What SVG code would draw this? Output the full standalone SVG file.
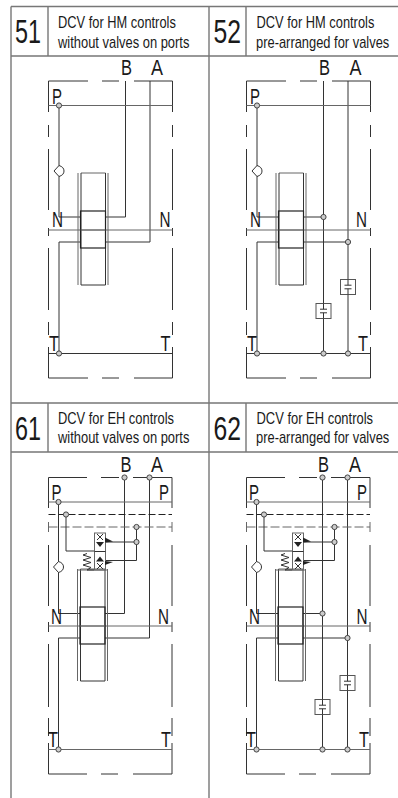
<svg xmlns="http://www.w3.org/2000/svg" width="398" height="798" viewBox="0 0 398 798">
<style>
text{font-family:"Liberation Sans",Arial,sans-serif;fill:#1a1a1a}
.t{stroke:#777;stroke-width:1.4;fill:none}
.l{stroke:#333;stroke-width:1;fill:none}
.g{stroke:#666;stroke-width:1;fill:none}
.k{stroke:#222;stroke-width:1.2;fill:none}
.c{stroke:#444;stroke-width:1;fill:#ccc}
.w{stroke:#333;stroke-width:1;fill:#fff}
.f{fill:#222;stroke:none}
.n{font-size:33px}
.d{font-size:16px}
.p{font-size:22px}
</style>
<defs>
<g id="frame51">
<path class="l" d="M48.5 112V81H88M102 81H119M134 81H172.5V112M48.5 125V137M172.5 125V137M48.5 149V210M172.5 149V210M48.5 228V236M172.5 228V236M48.5 248V310M172.5 248V310M48.5 322V335M172.5 322V335M48.5 347V378H88M102 378H119M134 378H172.5V347"/>
<path class="g" d="M48.5 105.500H172.500M48.5 230H172.500"/>
<path class="l" d="M48.5 353.500H172.500"/>
<use href="#spool"/>
</g>
<g id="spool">
<path class="g" d="M78 173V285M108 173V285M81 173H105.500"/>
<path class="l" d="M81 173V285H105.500V173"/>
<rect class="k" x="80.500" y="211" width="25" height="37"/>
<path class="g" d="M80.500 230H105.500"/>
</g>
<g id="frame61">
<path class="l" d="M48.500 508V477.500H87M101 477.500H119M133 477.500H172V508M48.500 545V606M172 545V606M48.500 622V632M172 622V632M48.500 644V707M172 644V707M48.500 718V736M172 718V736M48.500 743V774H87M101 774H118M133 774H172V743"/>
<path class="g" d="M48.500 522V532M172 522V532"/>
<path class="g" d="M48.500 502H172M48.500 626H172M48.500 749.500H172"/>
<path class="k" d="M48.500 514.500H172" stroke-dasharray="7 3"/>
<path class="g" d="M48.500 527H172" stroke-dasharray="9 3" stroke-width="1.200"/>
<use href="#spool" transform="translate(-0.500 396)"/>
<path class="g" d="M77 570H108"/>
</g>
<g id="pilot">
<path class="l" d="M66 514.500V551H95M105 542H136.500M136.500 527V560.500H105"/>
<rect class="g" x="94.500" y="533" width="11" height="37"/>
<path class="l" d="M97 534L103 540M103 534L97 540M97 563L103 569M103 563L97 569M94.500 551.500H105.500"/>
<path class="f" d="M96 542H104L100 547ZM96 561.500H104L100 556.500ZM105 537.500L113 541.500L105 542.500ZM105 565L113 562L105 561Z"/>
<path class="l" d="M87 570L91 567.500L83 565L91 562.500L83 560L91 557.500L83 555L87 553.500"/>
<path class="l" d="M87 570H94"/>
</g>
<g id="valve">
<rect x="-7.500" y="-7.500" width="15" height="15" fill="#fff" stroke="#555" stroke-width="1"/>
<path class="l" d="M0 -7.500V-1.800M-3.500 -1.800H3.500M-3.500 1.800H3.500M0 1.800V7.500"/>
</g>
<circle id="dot" class="c" r="2.600"/>
<path id="check" class="w" stroke-linejoin="round" d="M-5 0L0 -5.500Q5 -4 5 0Q5 4 0 5.500Z"/>
</defs>
<g id="table">
<path class="t" d="M11 6.500H398M11 56H398M11 6.500V798M48 6.500V56M209 6.500V798M246 6.500V56M11 403H398M11 452H398M48 403V452M246 403V452"/>
</g>
<g id="connectors">
<path class="l" d="M59 105.500V217H80M106 217H125.500V81M150 81V242H106M80 242H59V353.500"/>
<g transform="translate(198 0)">
<path class="l" d="M59 105.500V217H80M106 217H125.500V81M150 81V353.500M150 242H106M80 242H59V353.500M125.500 217V353.500"/>
</g>
<path class="l" d="M58.500 502V613.500H80M105 613.500H124.500V477.500M149.500 477.500V638H105M80 638H58.500V749.500"/>
<g transform="translate(198 0)">
<path class="l" d="M58.500 502V613.500H80M105 613.500H124.500V477.500M149.500 477.500V749.500M149.500 638H105M80 638H58.500V749.500M124.500 613.500V749.500"/>
</g>
</g>
<g id="node-51">
<use href="#frame51"/>
<use href="#check" x="59" y="171"/>
<use href="#dot" x="59" y="105.500"/>
<use href="#dot" x="59" y="353.500"/>
<text class="n" x="15" y="42.700" textLength="26" lengthAdjust="spacingAndGlyphs">51</text>
<text class="d" transform="translate(58 28) scale(.804 1)">DCV for HM controls</text>
<text class="d" transform="translate(58 47.700) scale(.808 1)">without valves on ports</text>
<text class="p" x="121" y="75" textLength="11" lengthAdjust="spacingAndGlyphs">B</text>
<text class="p" x="151" y="75" textLength="12" lengthAdjust="spacingAndGlyphs">A</text>
<text class="p" x="52" y="103.500" textLength="10" lengthAdjust="spacingAndGlyphs">P</text>
<text class="p" x="52" y="226.700" textLength="11" lengthAdjust="spacingAndGlyphs">N</text>
<text class="p" x="159.500" y="226.700" textLength="11" lengthAdjust="spacingAndGlyphs">N</text>
<text class="p" x="49" y="350.700" textLength="10" lengthAdjust="spacingAndGlyphs">T</text>
<text class="p" x="160.500" y="350.700" textLength="10" lengthAdjust="spacingAndGlyphs">T</text>
</g>
<g id="node-52">
<use href="#frame51" x="198"/>
<use href="#check" x="257" y="171"/>
<use href="#valve" x="323.500" y="311"/>
<use href="#valve" x="348" y="287"/>
<use href="#dot" x="257" y="105.500"/>
<use href="#dot" x="257" y="353.500"/>
<use href="#dot" x="323.500" y="353.500"/>
<use href="#dot" x="348" y="353.500"/>
<use href="#dot" x="323.500" y="217"/>
<use href="#dot" x="348" y="242"/>
<text class="n" x="213.500" y="42.700" textLength="27.500" lengthAdjust="spacingAndGlyphs">52</text>
<text class="d" transform="translate(256.500 28) scale(.804 1)">DCV for HM controls</text>
<text class="d" transform="translate(256 47.700) scale(.807 1)">pre-arranged for valves</text>
<text class="p" x="319" y="75" textLength="11" lengthAdjust="spacingAndGlyphs">B</text>
<text class="p" x="349.500" y="75" textLength="12" lengthAdjust="spacingAndGlyphs">A</text>
<text class="p" x="250" y="103.500" textLength="10" lengthAdjust="spacingAndGlyphs">P</text>
<text class="p" x="250" y="226.700" textLength="11" lengthAdjust="spacingAndGlyphs">N</text>
<text class="p" x="356" y="226.700" textLength="11" lengthAdjust="spacingAndGlyphs">N</text>
<text class="p" x="247" y="350.700" textLength="10" lengthAdjust="spacingAndGlyphs">T</text>
<text class="p" x="358" y="350.700" textLength="10" lengthAdjust="spacingAndGlyphs">T</text>
</g>
<g id="node-61">
<use href="#frame61"/>
<use href="#pilot"/>
<use href="#check" x="58.500" y="567"/>
<use href="#dot" x="58.500" y="502"/>
<use href="#dot" x="58.500" y="749.500"/>
<use href="#dot" x="66" y="514.500"/>
<use href="#dot" x="136.500" y="527"/>
<use href="#dot" x="136.500" y="542"/>
<use href="#dot" x="124.500" y="477.500"/>
<use href="#dot" x="149.500" y="477.500"/>
<text class="n" x="15" y="440" textLength="26" lengthAdjust="spacingAndGlyphs">61</text>
<text class="d" transform="translate(58 424.300) scale(.806 1)">DCV for EH controls</text>
<text class="d" transform="translate(58 443.300) scale(.808 1)">without valves on ports</text>
<text class="p" x="120.500" y="471.700" textLength="11" lengthAdjust="spacingAndGlyphs">B</text>
<text class="p" x="151" y="471.700" textLength="12" lengthAdjust="spacingAndGlyphs">A</text>
<text class="p" x="51.500" y="500" textLength="10" lengthAdjust="spacingAndGlyphs">P</text>
<text class="p" x="159" y="500" textLength="10" lengthAdjust="spacingAndGlyphs">P</text>
<text class="p" x="51" y="624" textLength="11" lengthAdjust="spacingAndGlyphs">N</text>
<text class="p" x="158" y="624" textLength="11" lengthAdjust="spacingAndGlyphs">N</text>
<text class="p" x="48" y="746.700" textLength="10" lengthAdjust="spacingAndGlyphs">T</text>
<text class="p" x="161" y="746.700" textLength="10" lengthAdjust="spacingAndGlyphs">T</text>
</g>
<g id="node-62">
<use href="#frame61" x="198"/>
<use href="#pilot" x="198"/>
<use href="#check" x="256.500" y="567"/>
<use href="#valve" x="322.500" y="707"/>
<use href="#valve" x="347.500" y="683"/>
<use href="#dot" x="256.500" y="502"/>
<use href="#dot" x="256.500" y="749.500"/>
<use href="#dot" x="322.500" y="749.500"/>
<use href="#dot" x="347.500" y="749.500"/>
<use href="#dot" x="322.500" y="613.500"/>
<use href="#dot" x="347.500" y="638"/>
<use href="#dot" x="264" y="514.500"/>
<use href="#dot" x="334.500" y="527"/>
<use href="#dot" x="334.500" y="542"/>
<use href="#dot" x="322.500" y="477.500"/>
<use href="#dot" x="347.500" y="477.500"/>
<text class="n" x="213.500" y="440" textLength="27.500" lengthAdjust="spacingAndGlyphs">62</text>
<text class="d" transform="translate(256.500 424.300) scale(.809 1)">DCV for EH controls</text>
<text class="d" transform="translate(256 443.300) scale(.807 1)">pre-arranged for valves</text>
<text class="p" x="318" y="471.700" textLength="11" lengthAdjust="spacingAndGlyphs">B</text>
<text class="p" x="349" y="471.700" textLength="12" lengthAdjust="spacingAndGlyphs">A</text>
<text class="p" x="249" y="500" textLength="10" lengthAdjust="spacingAndGlyphs">P</text>
<text class="p" x="357" y="500" textLength="10" lengthAdjust="spacingAndGlyphs">P</text>
<text class="p" x="249" y="624" textLength="11" lengthAdjust="spacingAndGlyphs">N</text>
<text class="p" x="356.500" y="624" textLength="11" lengthAdjust="spacingAndGlyphs">N</text>
<text class="p" x="246" y="746.700" textLength="10" lengthAdjust="spacingAndGlyphs">T</text>
<text class="p" x="359" y="746.700" textLength="10" lengthAdjust="spacingAndGlyphs">T</text>
</g>
</svg>
